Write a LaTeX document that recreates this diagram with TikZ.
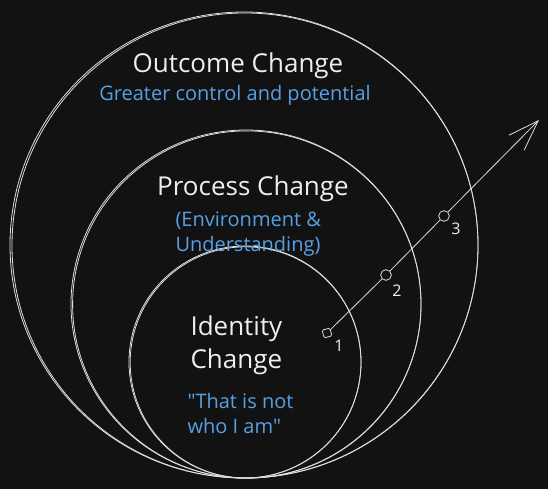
\documentclass[tikz,border=0pt]{standalone}
\usepackage{fontspec}
\setmainfont{Open Sans}
\usetikzlibrary{arrows.meta}

\definecolor{bgdark}{RGB}{18,18,18}
\definecolor{chalk}{RGB}{222,222,222}
\definecolor{inkwhite}{RGB}{238,238,238}
\definecolor{inkblue}{RGB}{88,160,228}

\tikzset{every picture/.style={line width=0.75pt}}
\tikzset{
  ring/.style={draw=chalk, line width=0.6pt},
  headline/.style={text=inkwhite, font=\fontsize{19.5}{24.75}\selectfont, inner sep=0pt, align=left},
  bluenote/.style={text=inkblue, font=\fontsize{15}{18.75}\selectfont, inner sep=0pt, align=left},
  dotmark/.style={draw=chalk, line width=0.6pt, circle, inner sep=0pt, minimum width=6.5pt, minimum height=8pt},
  boxmark/.style={draw=chalk, line width=0.6pt, rectangle, rounded corners=1pt, inner sep=0pt, minimum size=6pt, rotate=15},
  stepnum/.style={text=inkwhite, font=\fontsize{12}{14}\selectfont, inner sep=0pt},
}

\begin{document}
\begin{tikzpicture}[x=0.75pt,y=0.75pt,yscale=-1,xscale=1]

%% ---------------- canvas ----------------
\fill [bgdark] (0,0) rectangle (548,489);
\useasboundingbox (0,0) rectangle (548,489);

%% ---------------- nested rings (double stroke) ----------------
\draw [ring] (244,245) ellipse (234 and 233);
\draw [ring] (245,245.5) ellipse (233 and 232.5);
\draw [ring] (246,304) ellipse (175 and 174);
\draw [ring] (246.8,304.5) ellipse (174.2 and 173.6);
\draw [ring] (245,362) ellipse (116 and 116);
\draw [ring] (245.6,362.4) ellipse (115.4 and 115.6);

%% ---------------- steps along the arrow ----------------
\node [boxmark] (m1) at (327,333) {};
\node [dotmark] (m2) at (386,275) {};
\node [dotmark] (m3) at (444,216) {};
\coordinate (tip) at (539,120);

\draw [chalk, line width=0.6pt] (m1) -- (m2) ;
\draw [chalk, line width=0.6pt] (m2) -- (m3) ;
\draw [chalk, line width=0.6pt, -{Straight Barb[length=23pt,width=16pt]}] (m3) -- (tip) ;

\node [stepnum] (n1) at (339,346) {1};
\node [stepnum] (n2) at (397,291) {2};
\node [stepnum] (n3) at (456,229) {3};

%% ---------------- text (base = last line) ----------------
\node [headline, anchor=base] (outcome) at (238,72) {Outcome Change};
\node [bluenote, anchor=base] (outcomenote) at (235,100) {Greater control and potential};

\node [headline, anchor=base] (process) at (253,195) {Process Change};
\node [bluenote, anchor=base west] (processnote) at (175,251) {(Environment \&\\Understanding)};

\node [headline, anchor=base west] (identity) at (190,368) {Identity\\Change};
\node [bluenote, anchor=base west] (identitynote) at (187,433) {\textquotedbl That is not\\who I am\textquotedbl};

\end{tikzpicture}
\end{document}
